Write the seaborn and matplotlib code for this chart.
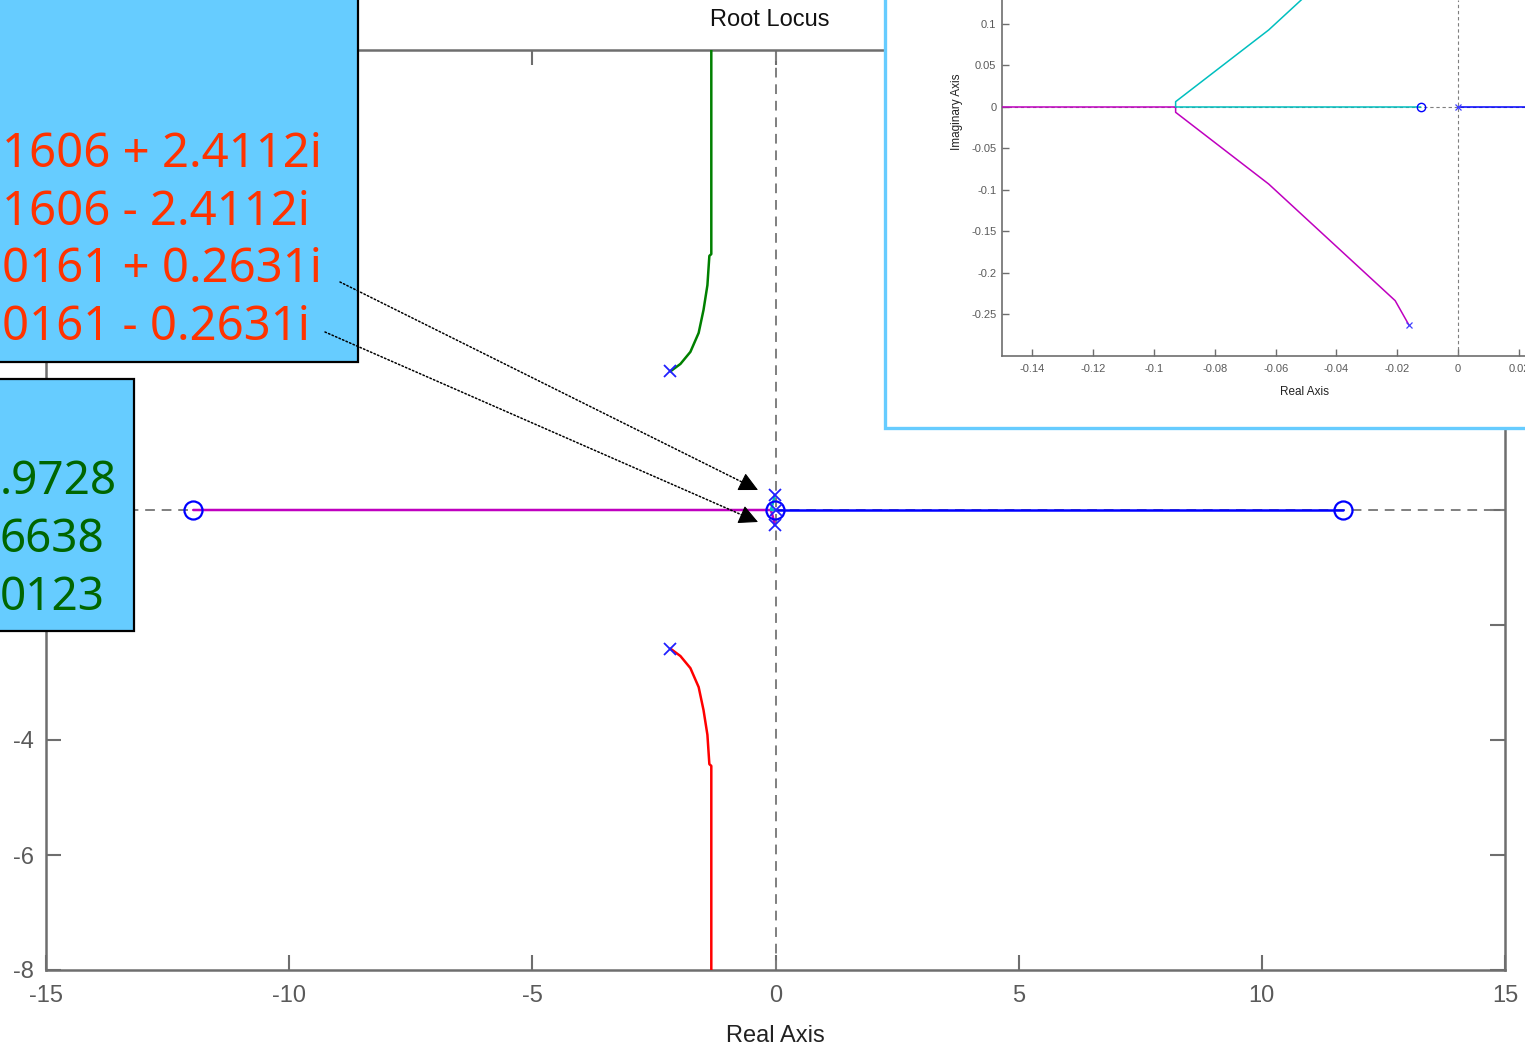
import matplotlib
matplotlib.use("Agg")
import matplotlib.pyplot as plt
import seaborn as sns
from matplotlib.patches import Rectangle, FancyArrowPatch

# ---------------- data ----------------
pole_re = [0.0, -2.1606, -2.1606, -0.0161, -0.0161]
pole_im = [0.0, 2.4112, -2.4112, 0.2631, -0.2631]
zero_re = [-11.9728, 11.6638, -0.0123]
zero_im = [0.0, 0.0, 0.0]

green_re = [-2.1606, -1.955, -1.75, -1.58, -1.48, -1.40, -1.36, -1.32, -1.32]
green_im = [2.4112, 2.54, 2.75, 3.08, 3.48, 3.91, 4.42, 4.45, 8.0]
red_re = [-2.1606, -1.955, -1.75, -1.58, -1.48, -1.40, -1.36, -1.32, -1.32]
red_im = [-2.4112, -2.54, -2.75, -3.08, -3.48, -3.91, -4.42, -4.45, -8.0]
blue_re = [0.0, 11.6638]
blue_im = [0.0, 0.0]
magenta_re = [-0.0161, -0.0207, -0.0623, -0.0929, -0.0929, -11.9728]
magenta_im = [-0.2631, -0.2333, -0.0928, -0.0064, 0.0, 0.0]
cyan_re = [-0.0161, -0.0207, -0.0623, -0.0929, -0.0929, -0.0123]
cyan_im = [0.2631, 0.2333, 0.0928, 0.0064, 0.0, 0.0]

pole_text = ["1606 + 2.4112i", "1606 - 2.4112i", "0161 + 0.2631i", "0161 - 0.2631i"]
zero_text = [".9728", "6638", "0123"]

main_xticks = [-15, -10, -5, 0, 5, 10, 15]
main_xlabels = ["-15", "-10", "-5", "0", "5", "10", "15"]
main_yticks = [-8, -6, -4, -2, 0, 2, 4, 6, 8]
main_ylabels = ["-8", "-6", "-4", "", "", "", "", "", ""]
inset_xticks = [-0.14, -0.12, -0.1, -0.08, -0.06, -0.04, -0.02, 0, 0.02]
inset_xlabels = ["-0.14", "-0.12", "-0.1", "-0.08", "-0.06", "-0.04", "-0.02", "0", "0.02"]
inset_yticks = [-0.25, -0.2, -0.15, -0.1, -0.05, 0, 0.05, 0.1]
inset_ylabels = ["-0.25", "-0.2", "-0.15", "-0.1", "-0.05", "0", "0.05", "0.1"]

branches = [
    (green_re, green_im, "#008000"),
    (red_re, red_im, "#FF0000"),
    (blue_re, blue_im, "#0000FF"),
    (magenta_re, magenta_im, "#BF00BF"),
    (cyan_re, cyan_im, "#00BFBF"),
]

# ---------------- style ----------------
sns.set_style("white")
plt.rcParams["font.family"] = ["Liberation Sans", "DejaVu Sans"]
plt.rcParams["axes.unicode_minus"] = False

W, H = 1525, 1050
fig = plt.figure(figsize=(W / 100, H / 100), dpi=100)


def fx(px):
    return px / W


def fy(py):
    return 1 - py / H


SPINE = "#6e6e6e"
LABEL = "#5a5a5a"

# ---------------- main axes ----------------
ax = fig.add_axes([fx(46), fy(970), fx(1505) - fx(46), fy(50) - fy(970)])
ax.set_zorder(0)
ax.axhline(0, color="#7f7f7f", lw=1.4, ls=(0, (5, 3.5)), zorder=1)
ax.axvline(0, color="#7f7f7f", lw=1.4, ls=(0, (5, 3.5)), zorder=1)
for re, im, col in branches:
    sns.lineplot(x=re, y=im, sort=False, estimator=None, color=col, lw=1.8,
                 ax=ax, legend=False, zorder=3)
ax.plot(zero_re, zero_im, "o", mfc="none", mec="#0000FF", ms=13, mew=1.6, zorder=4)
ax.plot(pole_re, pole_im, "x", color="#2020FF", ms=9, mew=1.3, zorder=4)
ax.set_xlim(-15, 15)
ax.set_ylim(-8, 8)
ax.set_xticks(main_xticks)
ax.set_xticklabels(main_xlabels)
ax.set_yticks(main_yticks)
ax.set_yticklabels(main_ylabels)
ax.tick_params(direction="in", length=11, width=1.5, color=SPINE, labelcolor=LABEL,
               labelsize=17, top=True, right=True, bottom=True, left=True)
ax.tick_params(axis="x", pad=11)
ax.tick_params(axis="y", pad=9)
for s in ax.spines.values():
    s.set_color(SPINE)
    s.set_linewidth(1.8)
ax.set_title("Root Locus", fontsize=17, pad=17, color="#111111", x=0.496)
ax.set_xlabel("Real Axis", fontsize=17, labelpad=13, color="#222222")
ax.set_ylabel("")

# ---------------- inset panel ----------------
panel = Rectangle((fx(885), fy(428)), 0.5, 0.5, transform=fig.transFigure,
                  fc="white", ec="#66CCFF", lw=2.4, zorder=2)
fig.add_artist(panel)

axi = fig.add_axes([fx(1002), fy(356), 1 - fx(1002), 1 - fy(356)])
axi.set_zorder(3)
axi.set_facecolor("white")
axi.axhline(0, color="#7f7f7f", lw=0.8, ls=(0, (3, 2.5)), zorder=1)
axi.axvline(0, color="#7f7f7f", lw=0.8, ls=(0, (3, 2.5)), zorder=1)
for re, im, col in branches:
    sns.lineplot(x=re, y=im, sort=False, estimator=None, color=col, lw=1.1,
                 ax=axi, legend=False, zorder=3)
axi.plot(zero_re, zero_im, "o", mfc="none", mec="#0000FF", ms=6, mew=1.0, zorder=4)
axi.plot(pole_re, pole_im, "x", color="#4040FF", ms=4.5, mew=0.9, zorder=4)
axi.set_xlim(-0.15, 0.022)
axi.set_ylim(-0.3, 0.1289)
axi.set_xticks(inset_xticks)
axi.set_xticklabels(inset_xlabels)
axi.set_yticks(inset_yticks)
axi.set_yticklabels(inset_ylabels)
axi.tick_params(direction="in", length=5, width=1.0, color=SPINE, labelcolor=LABEL,
                labelsize=8, bottom=True, left=True)
axi.tick_params(axis="x", pad=6)
axi.tick_params(axis="y", pad=4)
axi.spines["top"].set_visible(False)
axi.spines["right"].set_visible(False)
for k in ("left", "bottom"):
    axi.spines[k].set_color(SPINE)
    axi.spines[k].set_linewidth(1.2)
axi.set_xlabel("Real Axis", fontsize=8.5, color="#222222")
axi.set_ylabel("Imaginary Axis", fontsize=8.5, color="#222222")
axi.xaxis.set_label_coords(0.579, -0.085)
axi.yaxis.set_label_coords(-0.074, 0.685)

# ---------------- annotation boxes ----------------
box1 = Rectangle((fx(-10), fy(362)), fx(358) - fx(-10), fy(-10) - fy(362),
                 transform=fig.transFigure, fc="#66CCFF", ec="black", lw=1.6, zorder=5)
box2 = Rectangle((fx(-10), fy(631)), fx(134) - fx(-10), fy(379) - fy(631),
                 transform=fig.transFigure, fc="#66CCFF", ec="black", lw=1.6, zorder=5)
fig.add_artist(box1)
fig.add_artist(box2)

for i, t in enumerate(pole_text):
    fig.text(fx(2), fy(167 + 57.7 * i), t, color="#FF3300", fontsize=34,
             family=["Noto Sans", "DejaVu Sans"], ha="left", va="baseline", zorder=6)
for i, t in enumerate(zero_text):
    fig.text(fx(0), fy(494 + 58 * i), t, color="#006600", fontsize=33,
             family=["Noto Sans", "DejaVu Sans"], ha="left", va="baseline", zorder=6)

# ---------------- arrows ----------------
for (x0, y0), (x1, y1) in [((340, 282), (758, 490)), ((325, 332), (758, 522))]:
    dx, dy = x1 - x0, y1 - y0
    n = (dx * dx + dy * dy) ** 0.5
    hx, hy = x1 - 17 * dx / n, y1 - 17 * dy / n
    line = FancyArrowPatch((fx(x0), fy(y0)), (fx(hx), fy(hy)), transform=fig.transFigure,
                           arrowstyle="-", lw=1.1, ls=(0, (1, 1.5)), color="black",
                           shrinkA=0, shrinkB=0, zorder=7)
    head = FancyArrowPatch((fx(hx), fy(hy)), (fx(x1), fy(y1)), transform=fig.transFigure,
                           arrowstyle="-|>,head_length=0.6,head_width=0.3",
                           mutation_scale=20, lw=0.8, color="black",
                           shrinkA=0, shrinkB=0, zorder=7)
    fig.add_artist(line)
    fig.add_artist(head)

fig.savefig("out.png", dpi=100)
